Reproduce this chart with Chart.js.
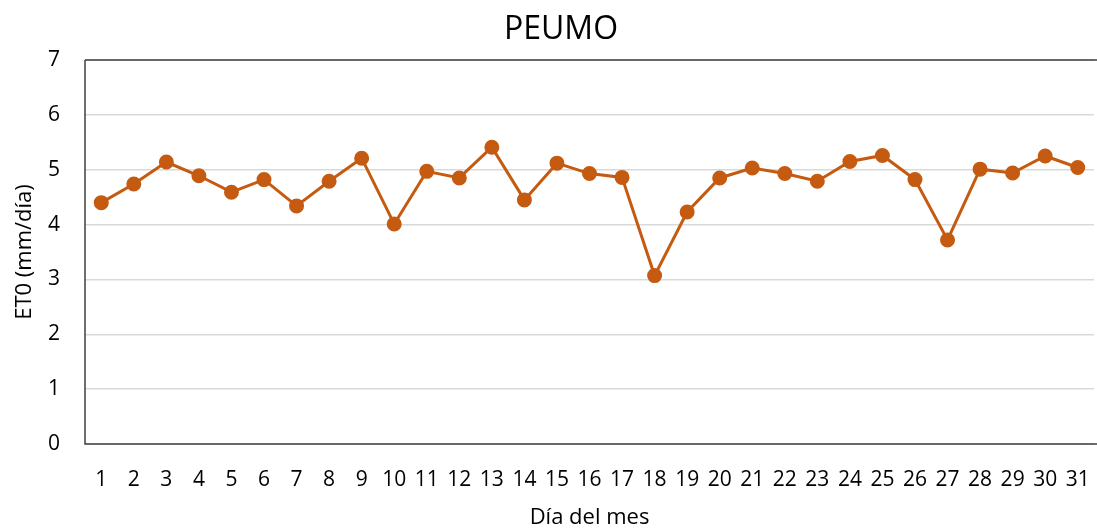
<!DOCTYPE html>
<html>
<head>
<meta charset="utf-8">
<script src="https://cdn.jsdelivr.net/npm/chart.js@4/dist/chart.umd.min.js"></script>
<style>
html,body{margin:0;padding:0;background:#fff;}
#wrap{width:1097px;height:531px;position:relative;}
</style>
</head>
<body>
<div id="wrap"><canvas id="c" width="1097" height="531"></canvas></div>
<script>
const days = ["1","2","3","4","5","6","7","8","9","10","11","12","13","14","15","16","17","18","19","20","21","22","23","24","25","26","27","28","29","30","31"];
const eto = [4.40,4.74,5.14,4.89,4.59,4.82,4.34,4.79,5.21,4.01,4.97,4.85,5.41,4.45,5.12,4.93,4.86,3.07,4.23,4.85,5.03,4.93,4.79,5.15,5.26,4.82,3.72,5.01,4.94,5.25,5.04];
const yTicks = [0,1,2,3,4,5,6,7];
const chartTitle = 'PEUMO';

const FONT = "'Open Sans', 'Noto Sans', sans-serif";
const ORANGE = "#C55A11";

const decorPlugin = {
  id: 'decor',
  afterDraw(chart) {
    const {ctx, chartArea: a} = chart;
    ctx.save();
    ctx.strokeStyle = '#404040';
    ctx.lineWidth = 1.5;
    ctx.beginPath();
    ctx.moveTo(a.left, a.top);
    ctx.lineTo(chart.width, a.top);
    ctx.moveTo(a.left, a.top);
    ctx.lineTo(a.left, a.bottom);
    ctx.lineTo(chart.width, a.bottom);
    ctx.stroke();
    ctx.fillStyle = '#000';
    ctx.font = "32px " + FONT;
    ctx.textAlign = 'center';
    ctx.textBaseline = 'middle';
    ctx.fillText(chartTitle, 561, 30);
    ctx.restore();
  }
};

new Chart(document.getElementById('c'), {
  type: 'line',
  data: {
    labels: days,
    datasets: [{
      data: eto,
      borderColor: ORANGE,
      backgroundColor: ORANGE,
      borderWidth: 3,
      pointRadius: 6,
      pointHoverRadius: 6,
      pointBackgroundColor: ORANGE,
      pointBorderColor: ORANGE,
      tension: 0
    }]
  },
  options: {
    responsive: false,
    animation: false,
    layout: { autoPadding: false, padding: { left: 8, right: 3, top: 60, bottom: 0 } },
    plugins: {
      legend: { display: false },
      tooltip: { enabled: false },
      title: { display: false }
    },
    scales: {
      x: {
        offset: true,
        grid: { display: false, drawTicks: true, tickLength: 20 },
        border: { display: false },
        ticks: {
          color: '#000',
          font: { family: FONT, size: 21 },
          padding: 3,
          maxRotation: 0,
          autoSkip: false
        },
        title: {
          display: true,
          text: 'Día del mes',
          color: '#000',
          font: { family: FONT, size: 22 },
          padding: { top: 12.6, bottom: 0 }
        },
        afterFit(s) { s.height = 87; s.paddingRight = 0; s.paddingLeft = 0; }
      },
      y: {
        min: 0,
        max: 7,
        afterBuildTicks(s) { s.ticks = yTicks.map(v => ({value: v})); },
        grid: { color: '#d9d9d9', lineWidth: 1.5, drawTicks: false },
        border: { display: false },
        ticks: {
          color: '#000',
          font: { family: FONT, size: 21 },
          padding: 25
        },
        title: {
          display: true,
          text: 'ET0 (mm/día)',
          color: '#000',
          font: { family: FONT, size: 22 },
          padding: { top: 4, bottom: 0 }
        },
        afterFit(s) { s.width = 77; }
      }
    }
  },
  plugins: [decorPlugin]
});
</script>
</body>
</html>
